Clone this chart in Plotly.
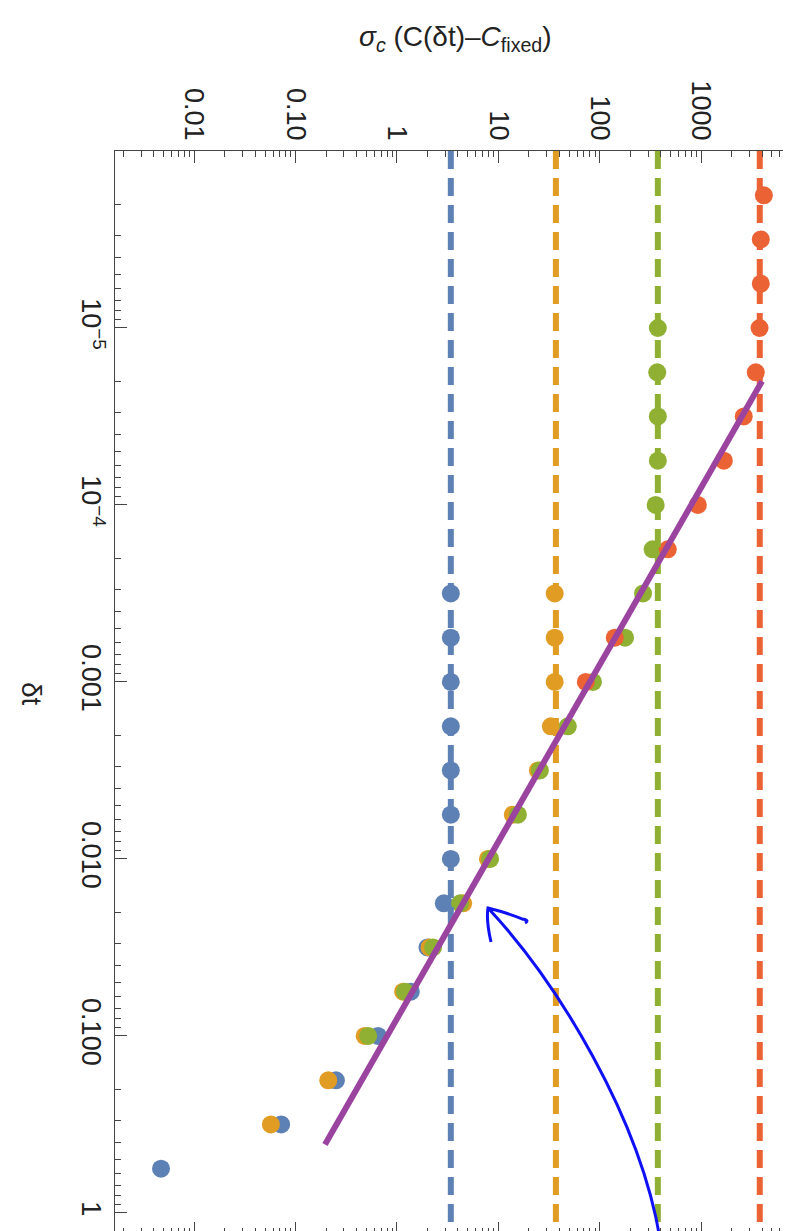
import plotly.graph_objects as go

# ---------------- data ----------------
# delta-t grids (quarter decades)
blue_dt = [3.16e-4, 5.62e-4, 1e-3, 1.78e-3, 3.16e-3, 5.62e-3, 1e-2, 1.78e-2, 3.16e-2, 5.62e-2, 0.1, 0.178, 0.316, 0.562]
blue_sigma = [3.4, 3.4, 3.4, 3.4, 3.4, 3.4, 3.4, 2.9, 2.0, 1.37, 0.65, 0.25, 0.072, 0.0047]

orange_dt = [3.16e-4, 5.62e-4, 1e-3, 1.78e-3, 3.16e-3, 5.62e-3, 1e-2, 1.78e-2, 3.16e-2, 5.62e-2, 0.1, 0.178, 0.316]
orange_sigma = [36, 36, 36, 33, 24.6, 13.9, 7.9, 4.5, 2.1, 1.15, 0.48, 0.21, 0.057]

green_dt = [1e-5, 1.78e-5, 3.16e-5, 5.62e-5, 1e-4, 1.78e-4, 3.16e-4, 5.62e-4, 1e-3, 1.78e-3,
            3.16e-3, 5.62e-3, 1e-2, 1.78e-2, 3.16e-2, 5.62e-2, 0.1]
green_sigma = [375, 370, 375, 375, 357, 333, 268, 178, 86, 48.5, 25.7, 15.6, 8.3, 4.2, 2.27, 1.2, 0.52]

red_dt = [1.78e-6, 3.16e-6, 5.62e-6, 1e-5, 1.78e-5, 3.16e-5, 5.62e-5, 1e-4, 1.78e-4, 5.62e-4, 1e-3]
red_sigma = [4170, 3890, 3890, 3780, 3470, 2640, 1680, 930, 470, 141, 73]

# fixed-step reference levels (dashed)
fixed_levels = [3.4, 37, 375, 3800]
fixed_dt_span = [1e-6, 1.3]

# purple fit line, sigma ~ 1/dt
fit_dt = [2.0e-5, 0.41]
fit_sigma = [4000, 0.195]

x_tickvals = [0.01, 0.1, 1, 10, 100, 1000]
x_ticktext = ["0.01", "0.10", "1", "10", "100", "1000"]
y_tickvals = [1e-5, 1e-4, 1e-3, 1e-2, 1e-1, 1]
y_ticktext = ["10<sup>\u22125</sup>", "10<sup>\u22124</sup>", "0.001", "0.010", "0.100", "1"]

colors = ["#5E81B5", "#E19C24", "#8FB032", "#EB6235"]
purple = "#9A44A0"

# ---------------- figure ----------------
fig = go.Figure()

series = [(blue_dt, blue_sigma), (orange_dt, orange_sigma), (green_dt, green_sigma), (red_dt, red_sigma)]
for (dt, sg), c in zip(series, colors):
    fig.add_trace(go.Scatter(x=sg, y=dt, mode="markers",
                             marker=dict(size=18, color=c, line=dict(width=0)),
                             showlegend=False, hoverinfo="skip"))

for lvl, c in zip(fixed_levels, colors):
    fig.add_trace(go.Scatter(x=[lvl, lvl], y=fixed_dt_span, mode="lines",
                             line=dict(color=c, width=6, dash="18px,9px"),
                             showlegend=False, hoverinfo="skip"))

fig.add_trace(go.Scatter(x=fit_sigma, y=fit_dt, mode="lines",
                         line=dict(color=purple, width=6),
                         showlegend=False, hoverinfo="skip"))

minor_vals = [k * 10.0 ** n for n in range(-7, 5) for k in range(2, 10)]

FONT = "Liberation Sans, Arial, sans-serif"
axis_common = dict(
    type="log", showgrid=False, zeroline=False,
    showline=True, linecolor="#444", linewidth=1, mirror="allticks",
    ticks="inside", ticklen=12, tickwidth=1, tickcolor="#444",
    minor=dict(ticks="inside", ticklen=6, tickwidth=1, tickcolor="#444",
               tickmode="array", tickvals=minor_vals, showgrid=False),
    tickfont=dict(family=FONT, size=27, color="#222"),
    automargin=False,
)

fig.update_xaxes(range=[-2.782, 3.957], side="top", tickmode="array",
                 tickvals=x_tickvals, ticktext=x_ticktext, tickangle=90, **axis_common)
fig.update_yaxes(range=[0.119, -6.0], tickmode="array",
                 tickvals=y_tickvals, ticktext=y_ticktext, tickangle=90, **axis_common)

# plot area in pixels: x 107..790, y 143..1226
L, R, T, B = 107, 790, 143, 1226
def to_paper(X, Y):
    return (X - L) / (R - L), (B - Y) / (B - T)

tx, ty = to_paper(447, 30)
fig.add_annotation(x=tx, y=ty, xref="paper", yref="paper", showarrow=False,
                   xanchor="center", yanchor="middle",
                   text="<i>\u03c3</i><sub><i>c</i></sub> (C(\u03b4t)\u2013<i>C</i><sub>fixed</sub>)",
                   font=dict(family=FONT, size=28, color="#222"))
lx, ly = to_paper(24, 686)
fig.add_annotation(x=lx, y=ly, xref="paper", yref="paper", showarrow=False, textangle=90,
                   xanchor="center", yanchor="middle",
                   text="\u03b4t",
                   font=dict(family=FONT, size=28, color="#222"))

# hand-drawn blue arrow (annotation overlay, pixel positions)
def P(X, Y):
    a, b = to_paper(X, Y)
    return f"{a:.4f},{b:.4f}"

arrow_path = (f"M {P(652, 1231)} C {P(632, 1110)} {P(550, 975)} {P(480, 900)} "
              f"M {P(483, 934)} Q {P(478, 912)} {P(480, 900)} "
              f"Q {P(500, 905)} {P(514, 911)} Q {P(522, 912)} {P(517, 915)}")
fig.add_shape(type="path", path=arrow_path, xref="paper", yref="paper",
              line=dict(color="#1010F5", width=3), layer="above")

fig.update_layout(width=791, height=1231, margin=dict(l=107, r=1, t=143, b=5),
                  paper_bgcolor="white", plot_bgcolor="white")

fig.write_html("out.html")
